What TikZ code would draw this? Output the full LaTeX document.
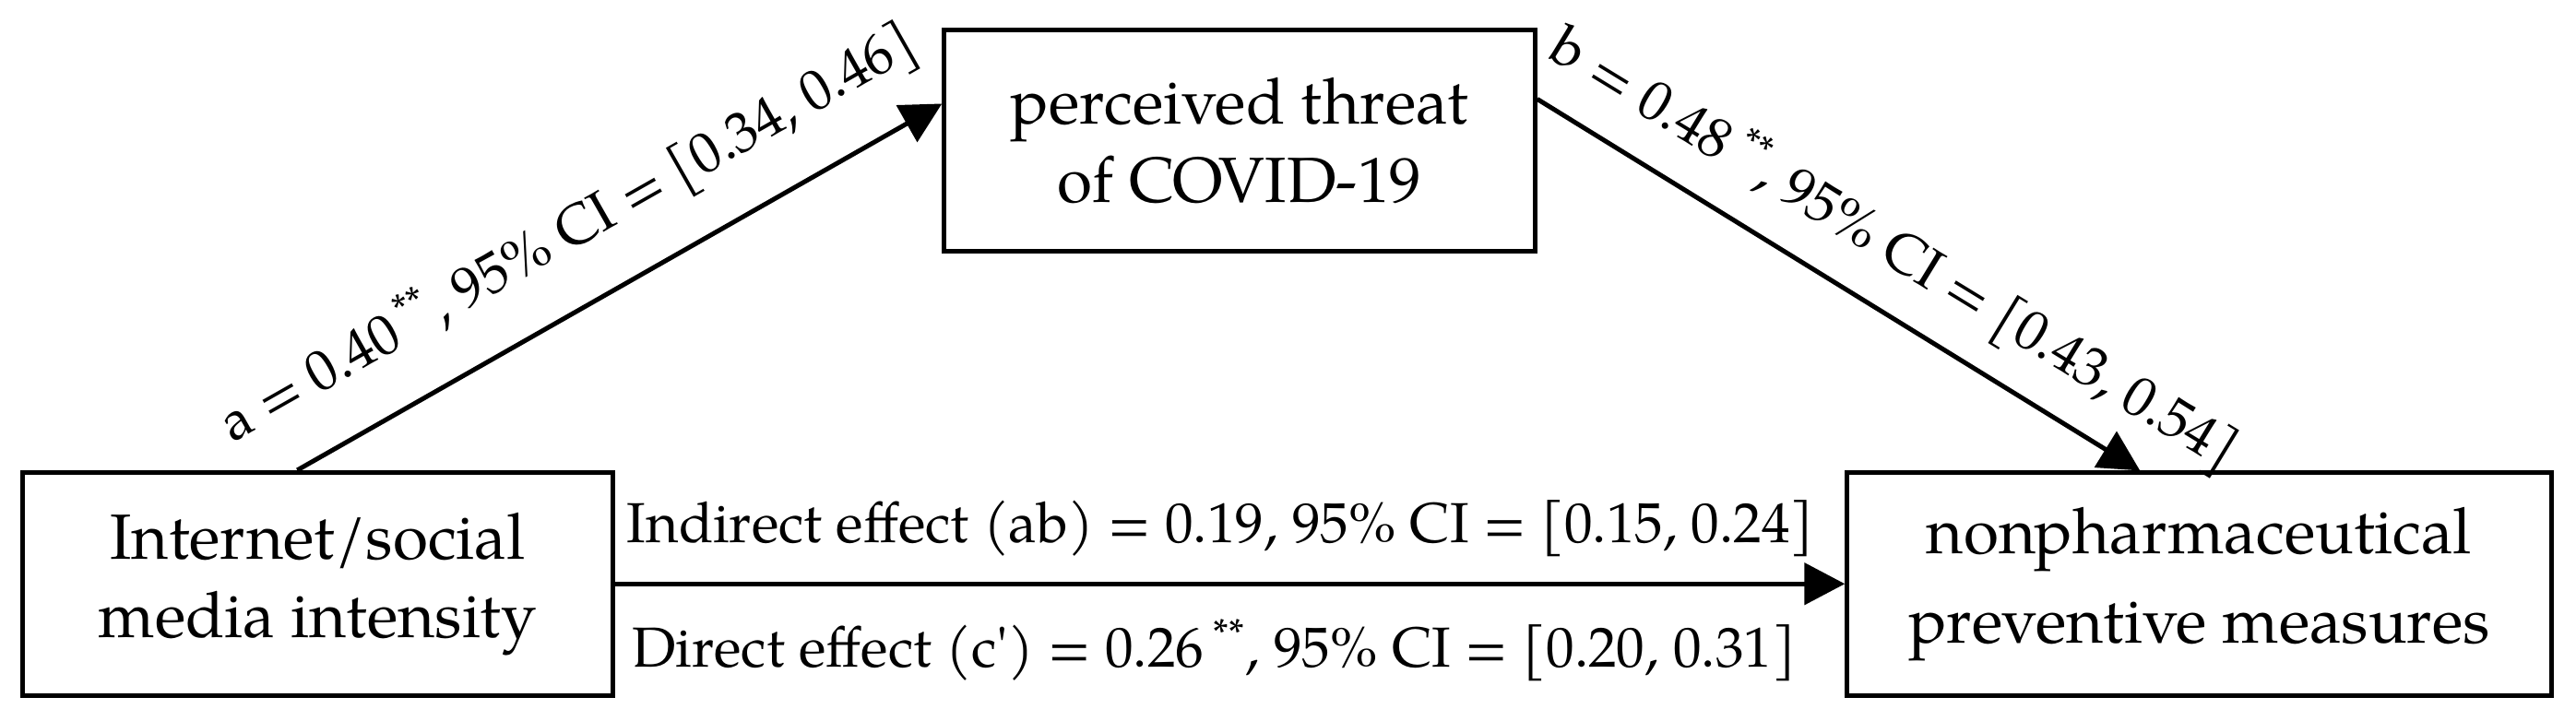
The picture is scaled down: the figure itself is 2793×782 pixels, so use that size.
\documentclass[tikz,border=0pt]{standalone}
\usepackage{fontspec}
\setmainfont{TeX Gyre Pagella}
\usetikzlibrary{arrows.meta,calc}
\begin{document}
\begin{tikzpicture}[x=0.01cm, y=-0.01cm,
  box/.style={draw, line width=1.42pt, fill=white, align=center, inner sep=0pt,
    font=\fontsize{19.7}{24.2}\selectfont},
  conn/.style={line width=1.42pt, -{Triangle[length=0.44cm,width=0.45cm]}},
  lbl/.style={font=\fontsize{17.4}{20}\selectfont, inner sep=0pt}]
\useasboundingbox (0,0) rectangle (2793,782);
\node[box, minimum width=6.39cm, minimum height=2.415cm] (L) at (344.5,633.25) {Internet/social\\media intensity};
\node[box, minimum width=6.40cm, minimum height=2.40cm] (T) at (1344,152.5) {perceived threat\\of COVID-19};
\node[box, minimum width=7.63cm, minimum height=2.41cm, font=\fontsize{19.7}{27.5}\selectfont] (R) at (2384.5,633.5) {nonpharmaceutical\\preventive measures};
\coordinate (aS) at ($(L.north west)+(300,0)$);
\coordinate (aE) at ($(T.north west)+(0,82.5)$);
\coordinate (bS) at ($(T.north east)+(0,77.5)$);
\coordinate (bE) at ($(R.north west)+(320,0)$);
\draw[conn] (L.east) -- (L.east -| R.west)
  node[lbl, pos=0.5, anchor=base, xshift=-0.1cm, yshift=0.45cm] (li) {Indirect effect (ab) = 0.19, 95\% CI = [0.15, 0.24]}
  node[lbl, pos=0.5, anchor=base, xshift=-0.17cm, yshift=-0.9cm] (ld) {Direct effect (c\textquotesingle) = 0.26\,\textsuperscript{**}, 95\% CI = [0.20, 0.31]};
\draw[conn] (aS) -- (aE);
\draw[conn] (bS) -- (bE);
\coordinate (am) at ($(aS)!0.475!(aE)$);
\coordinate (bm) at ($(bS)!0.54!(bE)$);
\node[lbl, anchor=base, rotate=29.62] (la) at ($(am)!0.6cm!90:(aE)$) {a = 0.40\,\textsuperscript{**}, 95\% CI = [0.34, 0.46]};
\node[lbl, anchor=base, rotate=-31.45] (lb) at ($(bm)!0.46cm!90:(bE)$) {b = 0.48\,\textsuperscript{**}, 95\% CI = [0.43, 0.54]};
\end{tikzpicture}
\end{document}
